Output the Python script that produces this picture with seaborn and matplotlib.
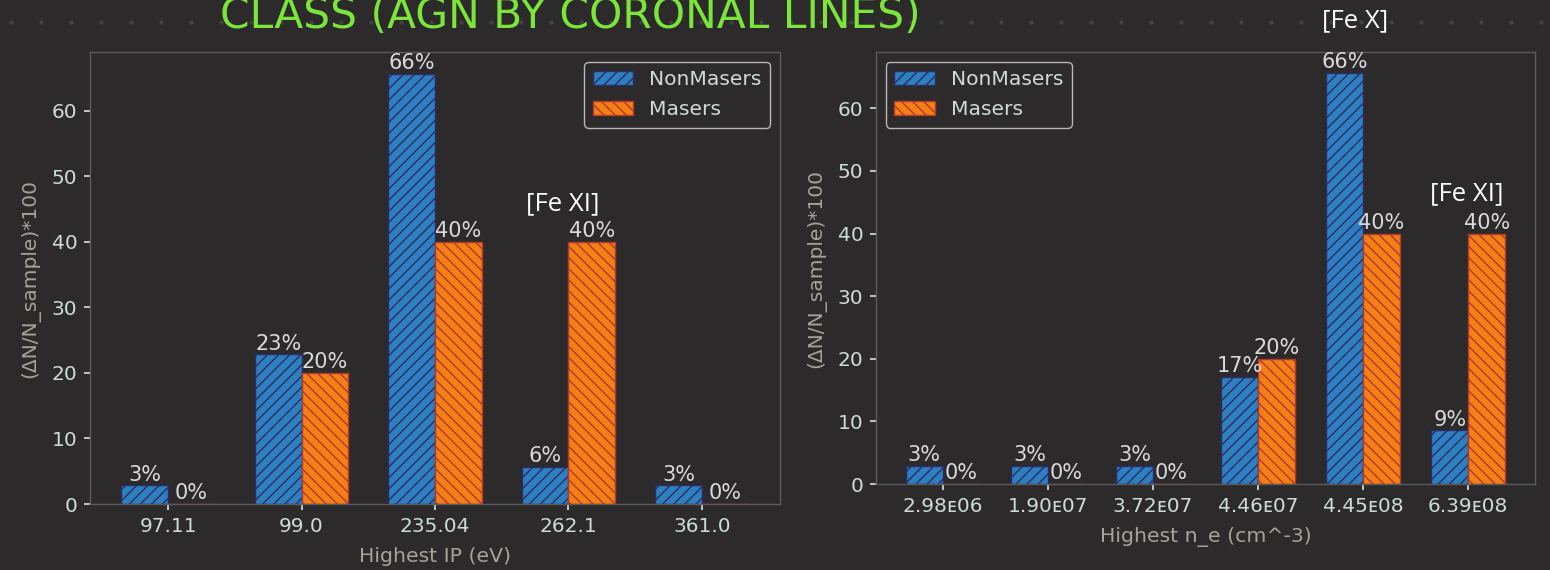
import numpy as np
import pandas as pd
import matplotlib
matplotlib.use("Agg")
import matplotlib.pyplot as plt
from matplotlib.lines import Line2D
import seaborn as sns

# --- data -------------------------------------------------------------
groups = ["NonMasers", "Masers"]

ip_categories = ["97.11", "99.0", "235.04", "262.1", "361.0"]
ip_nonmasers = [2.86, 22.86, 65.71, 5.71, 2.86]
ip_masers = [0.0, 20.0, 40.0, 40.0, 0.0]

ne_categories = ["2.98\u1d0706", "1.90\u1d0707", "3.72\u1d0707",
                 "4.46\u1d0707", "4.45\u1d0708", "6.39\u1d0708"]
ne_nonmasers = [2.86, 2.86, 2.86, 17.14, 65.71, 8.57]
ne_masers = [0.0, 0.0, 0.0, 20.0, 40.0, 40.0]

# --- style --------------------------------------------------------------
BG = "#2c2a2b"
TICK = "#cddcd8"
LABEL = "#a8a39a"
SPINE = "#5c5a5b"
BAR_TXT = "#dadada"
colors = ["#2e7fc0", "#f47f17"]
edges = ["#2b2d62", "#b3392a"]
hatches = ["///", "\\\\\\"]
BAR_WIDTH = 0.7

sns.set_theme(style="dark")
plt.rcParams.update({
    "figure.facecolor": BG,
    "axes.facecolor": BG,
    "axes.edgecolor": SPINE,
    "axes.linewidth": 1.0,
    "xtick.color": TICK,
    "ytick.color": TICK,
    "xtick.labelcolor": TICK,
    "ytick.labelcolor": TICK,
    "xtick.bottom": True,
    "ytick.left": True,
    "xtick.major.size": 4,
    "ytick.major.size": 4,
    "axes.labelcolor": LABEL,
    "hatch.linewidth": 1.0,
})
plt.rcParams["font.family"] = ["DejaVu Sans"]

fig = plt.figure(figsize=(15.5, 5.7), dpi=100)


def long_frame(cats, a, b):
    return pd.DataFrame({
        "cat": cats * 2,
        "group": [groups[0]] * len(cats) + [groups[1]] * len(cats),
        "val": list(a) + list(b),
    })


def draw_panel(ax, cats, a, b, xlabel, legend_loc):
    df = long_frame(cats, a, b)
    sns.barplot(data=df, x="cat", y="val", hue="group", order=cats,
                hue_order=groups, palette=colors, saturation=1,
                width=BAR_WIDTH, errorbar=None, ax=ax, legend=True)
    for cont, ec, h in zip(ax.containers, edges, hatches):
        for p in cont.patches:
            p.set_edgecolor(ec)
            p.set_hatch(h)
            p.set_linewidth(1.0)
        vals = [p.get_height() for p in cont.patches]
        ax.bar_label(cont, labels=[f"{v:.0f}%" for v in vals], padding=0.5,
                     color=BAR_TXT, fontsize=15)
    # matplotlib's usual 5% side margin around the bar extent
    span = (len(cats) - 1) + BAR_WIDTH
    pad = 0.05 * span
    ax.set_xlim(-BAR_WIDTH / 2 - pad, len(cats) - 1 + BAR_WIDTH / 2 + pad)
    ax.set_ylim(0, 69)
    ax.set_yticks([0, 10, 20, 30, 40, 50, 60])
    ax.tick_params(labelsize=14.5, pad=5)
    ax.set_xlabel(xlabel, fontsize=14.7, labelpad=8)
    ax.set_ylabel("(\u0394N/N_sample)*100", fontsize=14.5, labelpad=8)
    for s in ax.spines.values():
        s.set_color(SPINE)
        s.set_visible(True)
    ax.grid(False)
    leg = ax.legend(loc=legend_loc, fontsize=14.6, frameon=True,
                    facecolor=BG, edgecolor="#b8b8b8", framealpha=1,
                    handlelength=2.0, borderpad=0.4, labelspacing=0.55,
                    handletextpad=0.8, borderaxespad=0.5)
    for t in leg.get_texts():
        t.set_color(TICK)
    for hnd, ec, h in zip(leg.legend_handles, edges, hatches):
        hnd.set_edgecolor(ec)
        hnd.set_hatch(h)


ax1 = fig.add_axes([90 / 1550, 66 / 570, 690 / 1550, 452 / 570])
draw_panel(ax1, ip_categories, ip_nonmasers, ip_masers, "Highest IP (eV)",
           "upper right")

ax2 = fig.add_axes([876 / 1550, 86 / 570, 659 / 1550, 432 / 570])
draw_panel(ax2, ne_categories, ne_nonmasers, ne_masers, "Highest n_e (cm^-3)",
           "upper left")

# line annotations
note_kw = dict(color="white", fontsize=18.5, family=["Open Sans", "DejaVu Sans"],
               ha="center", va="center")
fig.text(563 / 1550, 1 - 204 / 570, "[Fe XI]", **note_kw)
fig.text(1467 / 1550, 1 - 194 / 570, "[Fe XI]", **note_kw)
fig.text(1355 / 1550, 1 - 21 / 570, "[Fe X]", **note_kw)

# faint dotted rule along the top
xs = np.arange(11, 1550, 30) / 1550
fig.add_artist(Line2D(xs, np.full_like(xs, 1 - 22 / 570), linestyle="none",
                      marker="o", markersize=2, color="#444244",
                      transform=fig.transFigure))

# heading, partly running off the top edge
fig.text(220 / 1550, 1 - 28 / 570, "CLASS (AGN BY CORONAL LINES)",
         color="#7be53a", fontsize=30.5, family=["DejaVu Sans"],
         ha="left", va="baseline")

fig.savefig("out.png", dpi=100, facecolor=BG)
